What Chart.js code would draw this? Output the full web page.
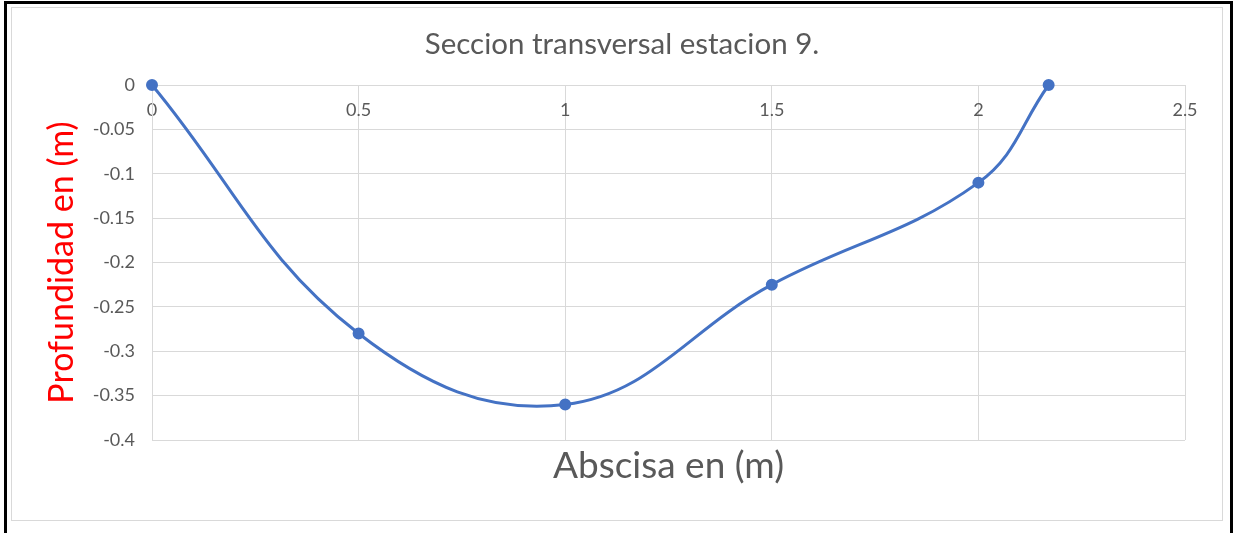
<!DOCTYPE html>
<html>
<head>
<meta charset="utf-8">
<script src="https://cdn.jsdelivr.net/npm/chart.js@4"></script>
<style>
    body { margin: 0; background: #fff; }
    .frame { position: absolute; left: 4px; top: 1px; width: 1223px; height: 560px; border: 3px solid #000; }
    .inner { position: absolute; left: 11px; top: 7px; width: 1210px; height: 512px; border: 1px solid #d9d9d9; }
    #sectionChart { position: absolute; left: 0; top: 0; }
</style>
</head>
<body>
<div class="frame"></div>
<div class="inner"></div>
<canvas id="sectionChart" width="1233" height="533"></canvas>
<script>
// Datos de la seccion (abscisa y profundidad en m)
const abscisa = [0, 0.5, 1, 1.5, 2, 2.17];
const profundidad = [0, -0.28, -0.36, -0.225, -0.11, 0];
const xTicks = [0, 0.5, 1, 1.5, 2, 2.5];
const yTicks = [0, -0.05, -0.1, -0.15, -0.2, -0.25, -0.3, -0.35, -0.4];

const gray = "#595959";
const gridColor = "#d9d9d9";

document.addEventListener("DOMContentLoaded", function () {
    const ctx = document.getElementById("sectionChart").getContext("2d");
    new Chart(ctx, {
        type: "scatter",
        data: {
            datasets: [{
                data: abscisa.map((x, i) => ({ x: x, y: profundidad[i] })),
                showLine: true,
                tension: 0.4,
                borderColor: "#4472c4",
                backgroundColor: "#4472c4",
                borderWidth: 3,
                pointRadius: 4.5,
                clip: false
            }]
        },
        options: {
            responsive: false,
            animation: false,
            layout: { padding: { left: 59, right: 48, top: 0, bottom: 0 } },
            plugins: {
                legend: { display: false },
                tooltip: { enabled: false },
                title: {
                    display: true,
                    text: "Seccion transversal estacion 9.",
                    color: gray,
                    font: { family: "Lato", size: 29.5, weight: "normal" },
                    padding: { top: 26.3, bottom: 23.3 }
                },
                subtitle: {
                    display: true,
                    position: "bottom",
                    fullSize: false,
                    text: "Abscisa en (m)",
                    color: gray,
                    font: { family: "Lato", size: 37 },
                    padding: { top: 3.8, bottom: 44.8 }
                }
            },
            scales: {
                x: {
                    type: "linear",
                    position: { y: 0 },
                    min: xTicks[0],
                    max: xTicks[xTicks.length - 1],
                    afterBuildTicks: s => { s.ticks = xTicks.map(v => ({ value: v })); },
                    ticks: {
                        color: gray,
                        font: { family: "Lato", size: 18 },
                        padding: 14.7,
                        maxRotation: 0,
                        autoSkip: false,
                        callback: v => String(+v.toFixed(2))
                    },
                    grid: { color: gridColor, drawTicks: false },
                    border: { color: gridColor }
                },
                y: {
                    position: "left",
                    min: yTicks[yTicks.length - 1],
                    max: yTicks[0],
                    afterBuildTicks: s => { s.ticks = yTicks.map(v => ({ value: v })); },
                    afterFit: s => { s.width = 93; },
                    ticks: {
                        color: gray,
                        font: { family: "Lato", size: 18 },
                        padding: 17,
                        autoSkip: false,
                        callback: v => String(+v.toFixed(2))
                    },
                    grid: { color: gridColor, drawTicks: false },
                    border: { color: gridColor },
                    title: {
                        display: true,
                        text: "Profundidad en (m)",
                        color: "#f00",
                        font: { family: "Lato", size: 34, lineHeight: 0.2 },
                        padding: 0
                    }
                }
            }
        }
    });
});
</script>
</body>
</html>
